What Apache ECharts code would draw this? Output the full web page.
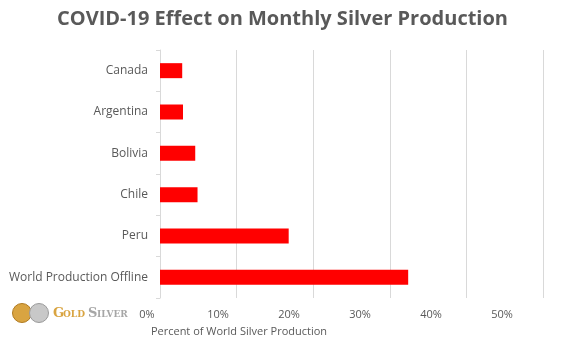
<!DOCTYPE html>
<html><head><meta charset="utf-8">
<script src="https://cdn.jsdelivr.net/npm/echarts@6/dist/echarts.min.js"></script>
<style>html,body{margin:0;padding:0;background:#fff}#c{width:565px;height:343px}</style>
</head><body><div id="c"></div>
<script>
var categories = ['Canada', 'Argentina', 'Bolivia', 'Chile', 'Peru', 'World Production Offline'];
var values = [2.9, 3.0, 4.6, 4.9, 16.8, 32.4];
var tickValues = [0, 10, 20, 30, 40, 50];
var titleText = 'COVID-19 Effect on Monthly Silver Production';
var axisTitle = 'Percent of World Silver Production';

var chart = echarts.init(document.getElementById('c'));
var F = "'Open Sans', 'Noto Sans', sans-serif";
chart.setOption({
  animation: false,
  title: {
    text: titleText, left: 'center', top: 4,
    textStyle: {fontFamily: F, fontWeight: 'bold', fontSize: 20, color: '#595959'}
  },
  grid: [
    {left: 160, right: 22, top: 50, bottom: 45},
    {left: 147, right: 63, top: 50, bottom: 42, show: false}
  ],
  xAxis: [
    {gridIndex: 0, type: 'value', min: tickValues[0], max: tickValues[tickValues.length-1], interval: 10,
     axisLabel: {show: false}, axisLine: {show: false}, axisTick: {show: false},
     splitLine: {show: true, lineStyle: {color: '#d9d9d9', width: 1}}},
    {gridIndex: 1, type: 'value', min: tickValues[0], max: tickValues[tickValues.length-1], interval: 10,
     axisLabel: {show: true, formatter: '{value}%', color: '#595959', fontFamily: F, fontSize: 11, margin: 8},
     axisLine: {show: false}, axisTick: {show: false}, splitLine: {show: false}}
  ],
  yAxis: [
    {gridIndex: 0, type: 'category', data: categories, inverse: true,
     axisLine: {show: true, lineStyle: {color: '#d9d9d9'}},
     axisTick: {show: true, length: 4, lineStyle: {color: '#d9d9d9'}},
     axisLabel: {color: '#595959', fontFamily: F, fontSize: 12, margin: 12}},
    {gridIndex: 1, type: 'category', data: categories, show: false}
  ],
  series: [{
    type: 'bar', xAxisIndex: 0, yAxisIndex: 0, data: values, barWidth: 15,
    itemStyle: {color: '#ff0000'}
  }],
  graphic: [
    {type: 'text', x: 239, y: 332, style: {text: axisTitle, fill: '#595959', font: "11px 'Open Sans', 'Noto Sans', sans-serif", textAlign: 'center', textVerticalAlign: 'middle'}},
    {type: 'circle', shape: {cx: 22, cy: 313, r: 9.5}, style: {fill: '#d9a441', stroke: '#b07a20', lineWidth: 1}},
    {type: 'circle', shape: {cx: 39, cy: 313, r: 9.5}, style: {fill: '#c8c8c8', stroke: '#9a9a9a', lineWidth: 1}},
    {type: 'text', x: 53, y: 314, style: {text: 'G', fill: '#d9a441', font: "bold 13px 'DejaVu Serif', 'Liberation Serif', serif", textVerticalAlign: 'middle'}},
    {type: 'text', x: 63, y: 315, style: {text: 'OLD', fill: '#d9a441', font: "bold 9px 'DejaVu Serif', 'Liberation Serif', serif", textVerticalAlign: 'middle'}},
    {type: 'text', x: 88, y: 314, style: {text: 'S', fill: '#a6a6a6', font: "bold 13px 'DejaVu Serif', 'Liberation Serif', serif", textVerticalAlign: 'middle'}},
    {type: 'text', x: 97, y: 315, style: {text: 'ILVER', fill: '#a6a6a6', font: "bold 9px 'DejaVu Serif', 'Liberation Serif', serif", textVerticalAlign: 'middle'}}
  ]
});
</script></body></html>
